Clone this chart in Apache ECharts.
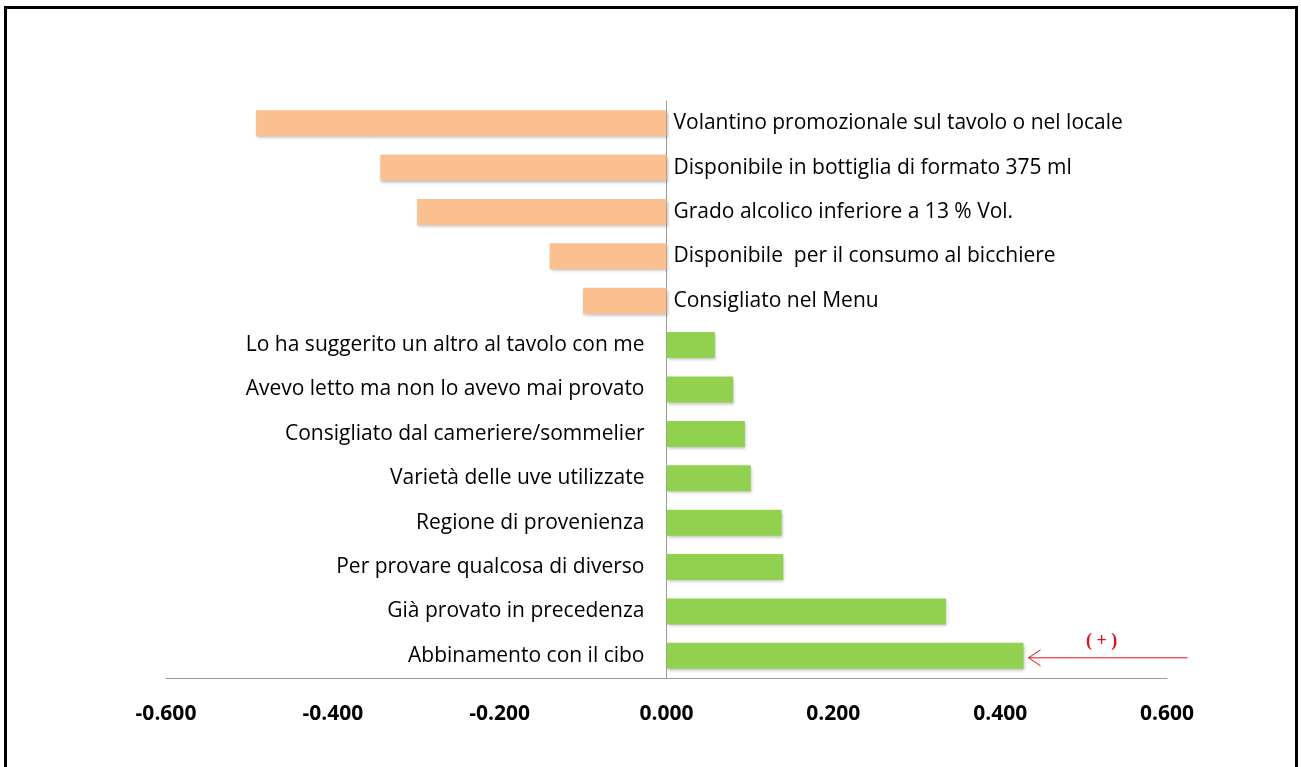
<!DOCTYPE html>
<html><head><meta charset="utf-8">
<script src="https://cdn.jsdelivr.net/npm/echarts@6/dist/echarts.min.js"></script>
<style>
html,body{margin:0;padding:0;background:#fff;}
#c{width:1301px;height:767px;}
#frame{position:absolute;left:4px;top:6px;width:1288px;height:780px;border:3px solid #000;box-sizing:content-box;pointer-events:none;}
</style></head>
<body>
<div id="c"></div>
<div id="frame"></div>
<script>
const categories = [
  "Volantino promozionale sul tavolo o nel locale",
  "Disponibile in bottiglia di formato 375 ml",
  "Grado alcolico inferiore a 13 % Vol.",
  "Disponibile  per il consumo al bicchiere",
  "Consigliato nel Menu",
  "Lo ha suggerito un altro al tavolo con me",
  "Avevo letto ma non lo avevo mai provato",
  "Consigliato dal cameriere/sommelier",
  "Varietà delle uve utilizzate",
  "Regione di provenienza",
  "Per provare qualcosa di diverso",
  "Già provato in precedenza",
  "Abbinamento con il cibo"
];
const values = [-0.492, -0.343, -0.299, -0.140, -0.100, 0.058, 0.080, 0.094, 0.101, 0.138, 0.140, 0.335, 0.428];
const tickLabels = ["-0.600","-0.400","-0.200","0.000","0.200","0.400","0.600"];
const annotationText = "( + )";

const negColor = "#FAC090";
const posColor = "#92D050";
const FONT = "'Open Sans', sans-serif";

const data = values.map(v => ({
  value: v,
  itemStyle: { color: v < 0 ? negColor : posColor },
  label: { position: v < 0 ? 'right' : 'left', distance: v < 0 ? 7 : 22 }
}));

const chart = echarts.init(document.getElementById('c'));
chart.setOption({
  animation: false,
  backgroundColor: '#fff',
  grid: { left: 166, right: 134, top: 101, bottom: 89, containLabel: false },
  xAxis: {
    type: 'value', min: -0.6, max: 0.6, interval: 0.2,
    axisLine: { show: true, onZero: false, lineStyle: { color: '#999', width: 1 } },
    axisTick: { show: false },
    splitLine: { show: false },
    axisLabel: {
      margin: 26, color: '#000', fontWeight: 'bold', fontSize: 21, fontFamily: FONT,
      formatter: (v) => tickLabels[Math.round((v + 0.6) / 0.2)] || v.toFixed(3)
    }
  },
  yAxis: {
    type: 'category', data: categories, inverse: true,
    axisLine: { show: true, onZero: true, lineStyle: { color: '#999', width: 1 } },
    axisTick: { show: false },
    axisLabel: { show: false },
    splitLine: { show: false }
  },
  series: [{
    type: 'bar',
    data: data,
    barWidth: 26,
    itemStyle: { shadowBlur: 3, shadowColor: 'rgba(0,0,0,0.25)', shadowOffsetX: 1, shadowOffsetY: 2 },
    label: {
      show: true, color: '#000', fontSize: 21, fontFamily: FONT,
      formatter: (p) => categories[p.dataIndex]
    }
  }]
});

// annotation arrow next to the top positive value
const last = categories.length - 1;
const pEnd = chart.convertToPixel({ gridIndex: 0 }, [values[last], categories[last]]);
const y = pEnd[1] + 2;
const x1 = pEnd[0] + 5, x2 = pEnd[0] + 164;
chart.setOption({
  graphic: [
    { type: 'line', shape: { x1: x1, y1: y, x2: x2, y2: y }, style: { stroke: '#E0101A', lineWidth: 1 } },
    { type: 'polyline', shape: { points: [[x1 + 12, y - 8], [x1, y], [x1 + 12, y + 8]] }, style: { stroke: '#E0101A', lineWidth: 1, fill: null } },
    { type: 'text', style: { text: annotationText, x: x1 + 73, y: y - 25, textAlign: 'center', fill: '#E0101A', font: 'bold 18px "Liberation Serif", serif' } }
  ]
});
</script>
</body></html>
